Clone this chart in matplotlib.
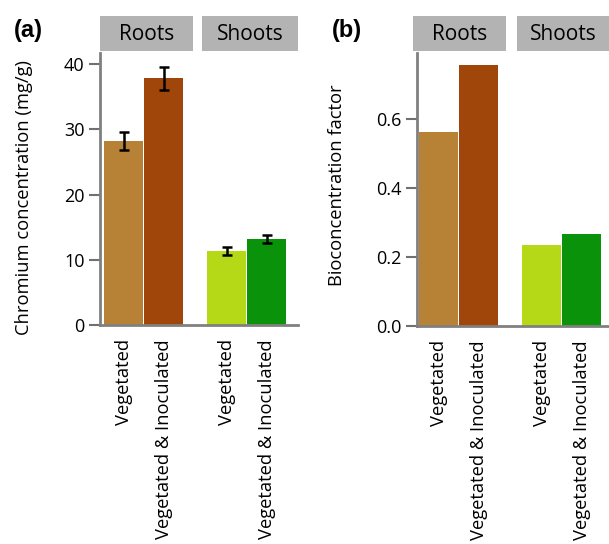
import matplotlib.pyplot as plt
from matplotlib.patches import Rectangle

plt.rcParams['font.family'] = ['Open Sans', 'DejaVu Sans']

# data
tissues = ['Roots', 'Shoots']
treatments = ['Vegetated', 'Vegetated & Inoculated']
conc_roots = [28.2, 37.8]
conc_roots_err = [1.4, 1.75]
conc_shoots = [11.35, 13.15]
conc_shoots_err = [0.65, 0.65]
bcf_roots = [0.563, 0.756]
bcf_shoots = [0.234, 0.266]
colors_roots = ['#b88236', '#a0460a']
colors_shoots = ['#b5d916', '#0a920a']

grp_offset = 2.58


def draw_panel(ax, vals, errs, ylim, yticks, ylabel, xlim, strips):
    pos = []
    labels = []
    for g, tissue in enumerate(tissues):
        x = [g * grp_offset + i for i in range(len(treatments))]
        cols = colors_roots if g == 0 else colors_shoots
        ax.bar(x, vals[g], width=0.98, color=cols, edgecolor='none')
        if errs is not None:
            ax.errorbar(x, vals[g], yerr=errs[g], fmt='none', ecolor='black',
                        elinewidth=1.8, capsize=3.3, capthick=1.8)
        pos += x
        labels += treatments
    ax.set_xticks(pos)
    ax.set_xticklabels(labels, rotation=90, fontsize=13.2)
    ax.tick_params(axis='x', length=0, pad=10)
    ax.tick_params(axis='y', length=8, width=1.5, color='#707070', labelsize=13, pad=3)
    ax.set_yticks(yticks)
    ax.set_ylim(ylim)
    ax.set_xlim(xlim)
    ax.set_ylabel(ylabel, fontsize=13.2)
    for s in ['top', 'right']:
        ax.spines[s].set_visible(False)
    for s in ['left', 'bottom']:
        ax.spines[s].set_color('#808080')
        ax.spines[s].set_linewidth(2)
    for (x0, x1), tissue in zip(strips, tissues):
        ax.add_patch(Rectangle((x0, 1.008), x1 - x0, 0.128, transform=ax.transAxes,
                               facecolor='#b3b3b3', edgecolor='none', clip_on=False))
        ax.text((x0 + x1) / 2, 1.068, tissue, transform=ax.transAxes, ha='center',
                va='center', fontsize=15)


fig = plt.figure(figsize=(6.09, 5.44), dpi=100)
ax1 = fig.add_axes([100 / 609, 1 - 325 / 544, 198 / 609, 272 / 544])
ax2 = fig.add_axes([417 / 609, 1 - 326 / 544, 192 / 609, 273 / 544])

draw_panel(ax1, [conc_roots, conc_shoots], [conc_roots_err, conc_shoots_err],
           (0, 41.7), [0, 10, 20, 30, 40], 'Chromium concentration (mg/g)',
           (-0.59, 4.36), [(0.0, 0.47), (0.515, 1.0)])
draw_panel(ax2, [bcf_roots, bcf_shoots], None,
           (0, 0.791), [0.0, 0.2, 0.4, 0.6], 'Bioconcentration factor',
           (-0.54, 4.26), [(-0.02, 0.464), (0.52, 1.0)])
ax2.set_yticklabels(['0.0', '0.2', '0.4', '0.6'])

fig.text(28 / 609, 1 - 30 / 544, '(a)', fontsize=17, fontweight='bold', ha='center',
         va='center', family='Liberation Sans')
fig.text(347 / 609, 1 - 30 / 544, '(b)', fontsize=17, fontweight='bold', ha='center',
         va='center', family='Liberation Sans')
ax1.yaxis.set_label_coords(-0.34, 0.47)
ax2.yaxis.set_label_coords(-0.37, 0.516)

fig.savefig('out.png', dpi=100)
